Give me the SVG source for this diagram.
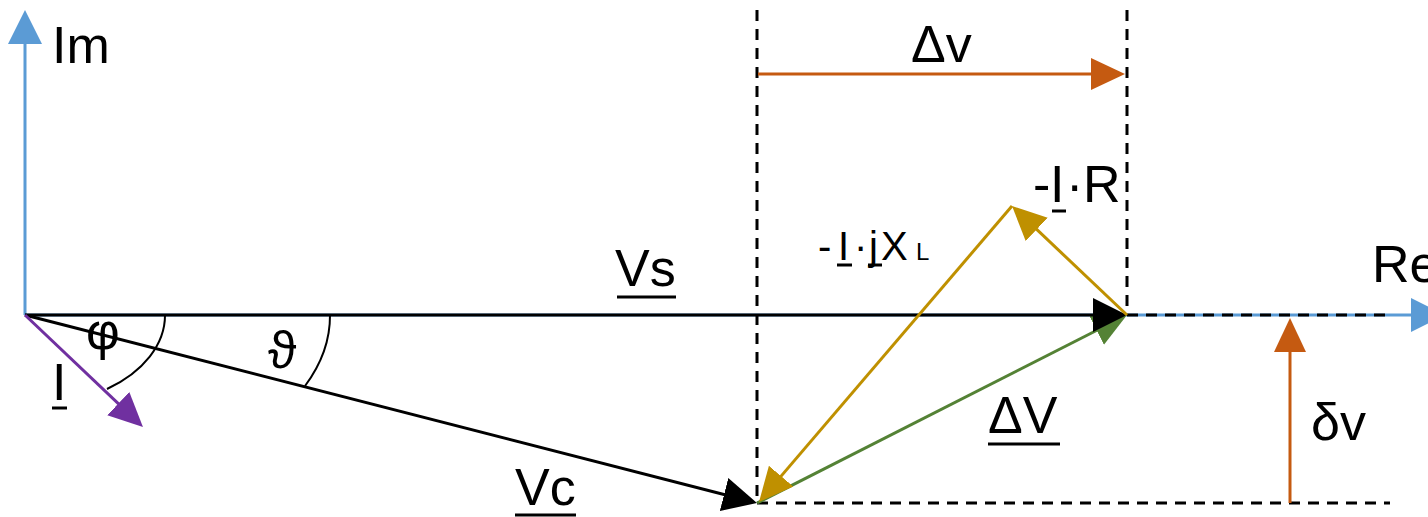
<svg xmlns="http://www.w3.org/2000/svg" width="1428" height="517" viewBox="0 0 1428 517">
<style>
text{font-family:"Liberation Sans","DejaVu Sans",sans-serif;fill:#000}
.big{font-size:52px}
.mid{font-size:40px}
.sub{font-size:24px}
.ln{fill:none;stroke-width:3}
.dash{fill:none;stroke:#000;stroke-width:3;stroke-dasharray:11 8}
.ul{stroke:#000;stroke-width:3}
.arc{fill:none;stroke:#000;stroke-width:2}
</style>
<defs>
<marker id="mBlack" markerUnits="userSpaceOnUse" markerWidth="34" markerHeight="34" refX="24" refY="17" orient="auto"><path d="M0,0 L34,17 L0,34 z" fill="#000"/></marker>
<marker id="mBlue" markerUnits="userSpaceOnUse" markerWidth="34" markerHeight="34" refX="24" refY="17" orient="auto"><path d="M0,0 L34,17 L0,34 z" fill="#5B9BD5"/></marker>
<marker id="mOrange" markerUnits="userSpaceOnUse" markerWidth="34" markerHeight="34" refX="24" refY="17" orient="auto"><path d="M0,1 L34,17 L0,33 z" fill="#C55A11"/></marker>
<marker id="mGold" markerUnits="userSpaceOnUse" markerWidth="34" markerHeight="34" refX="24" refY="17" orient="auto"><path d="M0,1 L34,17 L0,33 z" fill="#BF9000"/></marker>
<marker id="mGreen" markerUnits="userSpaceOnUse" markerWidth="34" markerHeight="34" refX="24" refY="17" orient="auto"><path d="M0,1 L34,17 L0,33 z" fill="#548235"/></marker>
<marker id="mPurple" markerUnits="userSpaceOnUse" markerWidth="34" markerHeight="34" refX="24" refY="17" orient="auto"><path d="M0,1 L34,17 L0,33 z" fill="#7030A0"/></marker>
</defs>
<rect width="1428" height="517" fill="#fff"/>

<g id="axes">
<line class="ln" x1="25" y1="315" x2="25" y2="20" stroke="#5B9BD5" marker-end="url(#mBlue)"/>
<line class="ln" x1="25" y1="315" x2="1435" y2="315" stroke="#5B9BD5" marker-end="url(#mBlue)"/>
<text class="big" x="52" y="63">Im</text>
<text class="big" x="1372" y="282">Re</text>
</g>

<g id="guides">
<line class="dash" x1="757" y1="10" x2="757" y2="503"/>
<line class="dash" x1="1127" y1="10" x2="1127" y2="315"/>
<line class="dash" x1="757" y1="503" x2="1390" y2="503"/>
<line class="dash" x1="1127" y1="315" x2="1390" y2="315"/>
</g>

<g id="angles">
<path class="arc" d="M165,315 A140,91 0 0,1 107,389"/>
<path class="arc" d="M330,315 A305,177 0 0,1 305,386"/>
<text class="big" x="86" y="349">φ</text>
<text class="big" x="268" y="368">ϑ</text>
</g>

<g id="connectors">
<line class="ln" x1="757" y1="503" x2="1118.1" y2="319.5" stroke="#548235" marker-end="url(#mGreen)"/>
<line class="ln" x1="25" y1="315" x2="1117" y2="315" stroke="#000" marker-end="url(#mBlack)"/>
<line class="ln" x1="25" y1="315" x2="747.3" y2="500.5" stroke="#000" marker-end="url(#mBlack)"/>
<line class="ln" x1="25" y1="315" x2="135.7" y2="420.1" stroke="#7030A0" marker-end="url(#mPurple)"/>
<line class="ln" x1="1127" y1="315" x2="1019.3" y2="212.9" stroke="#BF9000" marker-end="url(#mGold)"/>
<line class="ln" x1="1012" y1="206" x2="765.5" y2="494.4" stroke="#BF9000" marker-end="url(#mGold)"/>
<line class="ln" x1="758" y1="74" x2="1115" y2="74" stroke="#C55A11" marker-end="url(#mOrange)"/>
<line class="ln" x1="1290" y1="503" x2="1290" y2="328" stroke="#C55A11" marker-end="url(#mOrange)"/>
</g>

<g id="label-Vs">
<text class="big" x="615" y="286">Vs</text>
<line class="ul" x1="617" y1="297" x2="676" y2="297"/>
</g>
<g id="label-Vc">
<text class="big" x="515" y="505">Vc</text>
<line class="ul" x1="515" y1="515" x2="576" y2="515"/>
</g>
<g id="label-I">
<text class="big" x="52" y="400">I</text>
<line class="ul" x1="52" y1="408" x2="67" y2="408"/>
</g>
<g id="label-dV">
<text class="big" x="988" y="433">ΔV</text>
<line class="ul" x1="988" y1="444" x2="1060" y2="444"/>
</g>
<g id="label-dv-h">
<text class="big" x="911" y="62">Δv</text>
</g>
<g id="label-dv-v">
<text class="big" x="1311" y="440">δv</text>
</g>
<g id="label-IR">
<text class="big" y="202"><tspan x="1033">-</tspan><tspan x="1050">I</tspan><tspan x="1066">·</tspan><tspan x="1083">R</tspan></text>
<line class="ul" x1="1052" y1="211" x2="1066" y2="211"/>
</g>
<g id="label-IjXL">
<text class="mid" y="260"><tspan x="818">-</tspan><tspan x="838">I</tspan><tspan x="854">·</tspan><tspan x="869">j</tspan><tspan x="881">X</tspan><tspan class="sub" x="916">L</tspan></text>
<line class="ul" x1="837" y1="265" x2="852" y2="265"/>
<line class="ul" x1="868" y1="265" x2="882" y2="265"/>
</g>
</svg>
